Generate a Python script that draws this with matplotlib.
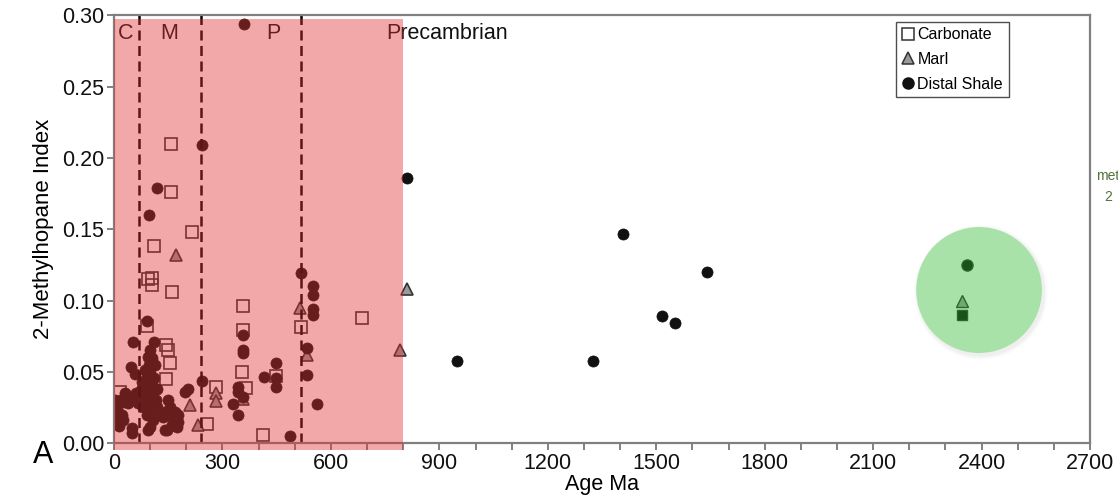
"""
2-Methylhopane index versus age, with Phanerozoic eras shaded
"""
import matplotlib.pyplot as plt
from matplotlib.patches import Rectangle, Ellipse
from matplotlib.lines import Line2D
from matplotlib.ticker import MultipleLocator, FormatStrFormatter

plt.rcParams['font.family'] = ['Liberation Sans', 'DejaVu Sans']

# Carbonate samples (open squares)
carb_age = [17, 95, 104, 104, 90, 111, 158, 158, 217, 160, 143, 148, 155, 143,
            256, 282, 356, 356, 354, 365, 411, 448, 517, 685]
carb_idx = [0.036, 0.115, 0.116, 0.111, 0.082, 0.138, 0.210, 0.176, 0.148, 0.106,
            0.069, 0.065, 0.056, 0.0447, 0.0133, 0.0395, 0.0964, 0.079, 0.050,
            0.0384, 0.0056, 0.047, 0.0816, 0.0875]

# Marl samples (grey triangles)
marl_age = [172, 210, 233, 282, 282, 358, 515, 533, 791, 810]
marl_idx = [0.132, 0.0267, 0.0126, 0.0353, 0.0297, 0.031, 0.0945, 0.0618, 0.065, 0.108]

# Distal shale samples (filled circles)
shale_age = [360, 244, 118, 96, 810, 516, 551, 551, 551, 551, 90, 356, 356, 356,
             533, 533, 448, 448, 448, 415, 562, 487, 243, 196, 205, 344, 344, 356,
             330, 344,
             53, 111, 100, 95, 46, 98, 58, 100, 77, 100, 18, 35, 53, 7, 72, 90, 109,
             104, 109, 100, 109, 100, 21, 26, 49, 49, 150, 155, 150, 146, 164, 178,
             178, 160, 80, 85, 90, 95, 100, 105, 110, 115, 120, 88, 92, 80, 112, 105,
             85, 118, 75, 60, 65, 45, 40, 30, 10, 12, 95, 141, 130, 135, 140, 170, 175,
             3, 25, 14,
             950, 1326, 1407, 1517, 1552, 1640]
shale_idx = [0.294, 0.209, 0.179, 0.160, 0.186, 0.119, 0.110, 0.104, 0.094, 0.090,
             0.0856, 0.0758, 0.065, 0.063, 0.0664, 0.048, 0.056, 0.0454, 0.0395,
             0.0465, 0.0274, 0.0049, 0.0437, 0.036, 0.0377, 0.0395, 0.036, 0.0325,
             0.0274, 0.0196,
             0.0707, 0.0707, 0.0653, 0.0601, 0.0536, 0.0547, 0.0484, 0.0494, 0.043,
             0.043, 0.030, 0.030, 0.031, 0.029, 0.035, 0.037, 0.036, 0.030, 0.0255,
             0.0208, 0.016, 0.0114, 0.0196, 0.016, 0.0103, 0.0068, 0.030, 0.0255,
             0.0196, 0.0091, 0.0185, 0.0196, 0.015, 0.0126, 0.040, 0.033, 0.028,
             0.024, 0.034, 0.040, 0.046, 0.030, 0.025, 0.045, 0.020, 0.025, 0.055,
             0.060, 0.051, 0.038, 0.037, 0.035, 0.028, 0.032, 0.028, 0.035, 0.022,
             0.017, 0.009, 0.0091, 0.020, 0.018, 0.022, 0.022, 0.011,
             0.030, 0.029, 0.012,
             0.0578, 0.0575, 0.1469, 0.0893, 0.084, 0.120]

# Highlighted ~2.35 Ga samples
green_age = [2360, 2345, 2345]
green_idx = [0.125, 0.100, 0.090]
green_marker = ['o', '^', 's']
green_face = ['black', '#9a9a9a', 'black']

# Era boundaries and labels
bounds = [70, 240, 517]
era_names = ['C', 'M', 'P', 'Precambrian']
era_pos = [33, 152, 441, 752]
era_ha = ['center', 'center', 'center', 'left']

fig = plt.figure(figsize=(11.18, 4.99), dpi=100)
ax = fig.add_axes([0.102, 0.112, 0.873, 0.857])

ax.plot(carb_age, carb_idx, 's', ms=8, mfc='none', mec='#333333', mew=1.2)
ax.plot(marl_age, marl_idx, '^', ms=9, mfc='#9a9a9a', mec='#333333', mew=1.2)
ax.plot(shale_age, shale_idx, 'o', ms=8, mfc='#111111', mec='#111111', mew=0.5)

for b in bounds:
    ax.axvline(b, color='black', lw=1.8, dashes=(4, 2.2))

for name, x, ha in zip(era_names, era_pos, era_ha):
    ax.text(x, 0.2877, name, ha=ha, va='center', fontsize=15.5, color='#111111')

# shaded Phanerozoic overlay, drawn above points
ax.add_patch(Rectangle((0, -0.0049), 800, 0.3024, facecolor=(0.886, 0.188, 0.188),
                       alpha=0.42, lw=0, zorder=10, clip_on=False))

# green highlight circle with a soft shadow
for k, al in enumerate([0.03, 0.04, 0.05]):
    ax.add_patch(Ellipse((2398, 0.1058), 348 + 7 * (3 - k), 0.0884 + 0.002 * (3 - k),
                         facecolor='grey', alpha=al, lw=0, zorder=7))
ax.add_patch(Ellipse((2393, 0.1074), 348, 0.0884, facecolor='white', lw=0, zorder=7.5))
for a, y, m, f in zip(green_age, green_idx, green_marker, green_face):
    ax.plot(a, y, m, ms=8 if m != 's' else 7, mfc=f, mec='#222222', mew=1, zorder=9)
ax.add_patch(Ellipse((2393, 0.1074), 348, 0.0884, facecolor=(0.235, 0.745, 0.235),
                     alpha=0.44, lw=0, zorder=10))

ax.set_xlim(0, 2700)
ax.set_ylim(0, 0.30)
ax.xaxis.set_major_locator(MultipleLocator(300))
ax.xaxis.set_minor_locator(MultipleLocator(100))
ax.yaxis.set_major_locator(MultipleLocator(0.05))
ax.yaxis.set_major_formatter(FormatStrFormatter('%.2f'))
ax.tick_params(which='both', direction='out', length=5, width=1.3, color='#777777',
               labelsize=15.5, labelcolor='#111111', pad=2)
for s in ax.spines.values():
    s.set_color('#808080')
    s.set_linewidth(1.6)

ax.set_xlabel('Age Ma', fontsize=15.5, labelpad=0)
ax.set_ylabel('2-Methylhopane Index', fontsize=16, labelpad=6)

handles = [Line2D([], [], ls='none', marker='s', ms=8, mfc='white', mec='#333333', mew=1.1),
           Line2D([], [], ls='none', marker='^', ms=9, mfc='#9a9a9a', mec='#333333', mew=1.1),
           Line2D([], [], ls='none', marker='o', ms=8, mfc='#111111', mec='#111111')]
leg = ax.legend(handles, ['Carbonate', 'Marl', 'Distal Shale'], loc='upper left',
                bbox_to_anchor=(0.801, 0.985), fontsize=11.5, frameon=True,
                fancybox=False, handlelength=0.8, handletextpad=0.2,
                borderpad=0.35, labelspacing=0.6, borderaxespad=0)
leg.get_frame().set_edgecolor('#222222')
leg.get_frame().set_linewidth(1.0)
leg.set_zorder(20)

fig.text(33 / 1118, 1 - 455 / 499, 'A', fontsize=22, ha='left', va='center')
fig.text(1096 / 1118, 1 - 176 / 499, 'met', fontsize=10, color='#55703a', va='center')
fig.text(1104 / 1118, 1 - 197 / 499, '2', fontsize=10, color='#55703a', va='center')

fig.savefig('out.png', dpi=100)
